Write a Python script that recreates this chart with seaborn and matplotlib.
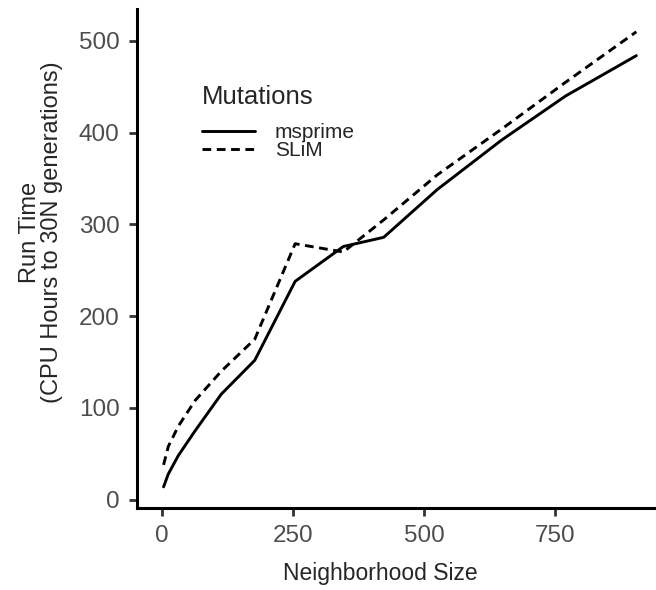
import matplotlib
matplotlib.use("Agg")
import matplotlib.pyplot as plt
import pandas as pd
import seaborn as sns

# neighborhood sizes and run times (CPU hours)
neighborhood = [3, 12, 31, 63, 113, 177, 254, 346, 423, 525, 648, 770, 905]
msprime_hours = [14, 28, 48, 75, 115, 152, 238, 276, 286, 338, 392, 440, 484]
slim_hours = [38, 58, 80, 108, 140, 175, 279, 270, 305, 354, 404, 455, 510]

df = pd.concat([
    pd.DataFrame({"size": neighborhood, "hours": msprime_hours, "Mutations": "msprime"}),
    pd.DataFrame({"size": neighborhood, "hours": slim_hours, "Mutations": "SLiM"}),
])

sns.set_style("ticks")
plt.rcParams["font.family"] = ["Liberation Sans", "DejaVu Sans"]

fig = plt.figure(figsize=(6.56, 5.9), dpi=100)
ax = fig.add_axes([0.209, 0.139, 0.789, 0.846])

sns.lineplot(
    data=df, x="size", y="hours", style="Mutations",
    style_order=["msprime", "SLiM"],
    dashes={"msprime": "", "SLiM": (3, 1.9)},
    color="black", linewidth=2.1, ax=ax,
)

ax.set_xlim(-47.5, 940)
ax.set_ylim(-9, 535)
ax.set_xticks([0, 250, 500, 750])
ax.set_yticks([0, 100, 200, 300, 400, 500])
ax.tick_params(axis="both", labelsize=17.5, labelcolor="#4D4D4D", length=6,
               width=2, color="#333333", direction="out", pad=6.5)
for side in ["left", "bottom"]:
    ax.spines[side].set_linewidth(2.2)
    ax.spines[side].set_color("black")
sns.despine(ax=ax)

ax.set_xlabel("Neighborhood Size", fontsize=16.5)
ax.set_ylabel("Run Time\n(CPU Hours to 30N generations)", fontsize=17,
              linespacing=1.0)
ax.xaxis.set_label_coords(0.47, -0.108)
ax.yaxis.set_label_coords(-0.143, 0.552)

leg = ax.legend(title="Mutations", loc="upper left", bbox_to_anchor=(0.105, 0.868),
                frameon=False, fontsize=15, title_fontsize=18.5, borderpad=0,
                handlelength=2.55, labelspacing=-0.05, handletextpad=0.95)
leg._legend_box.align = "left"
leg._legend_box.sep = 10

fig.savefig("out.png", dpi=100)
